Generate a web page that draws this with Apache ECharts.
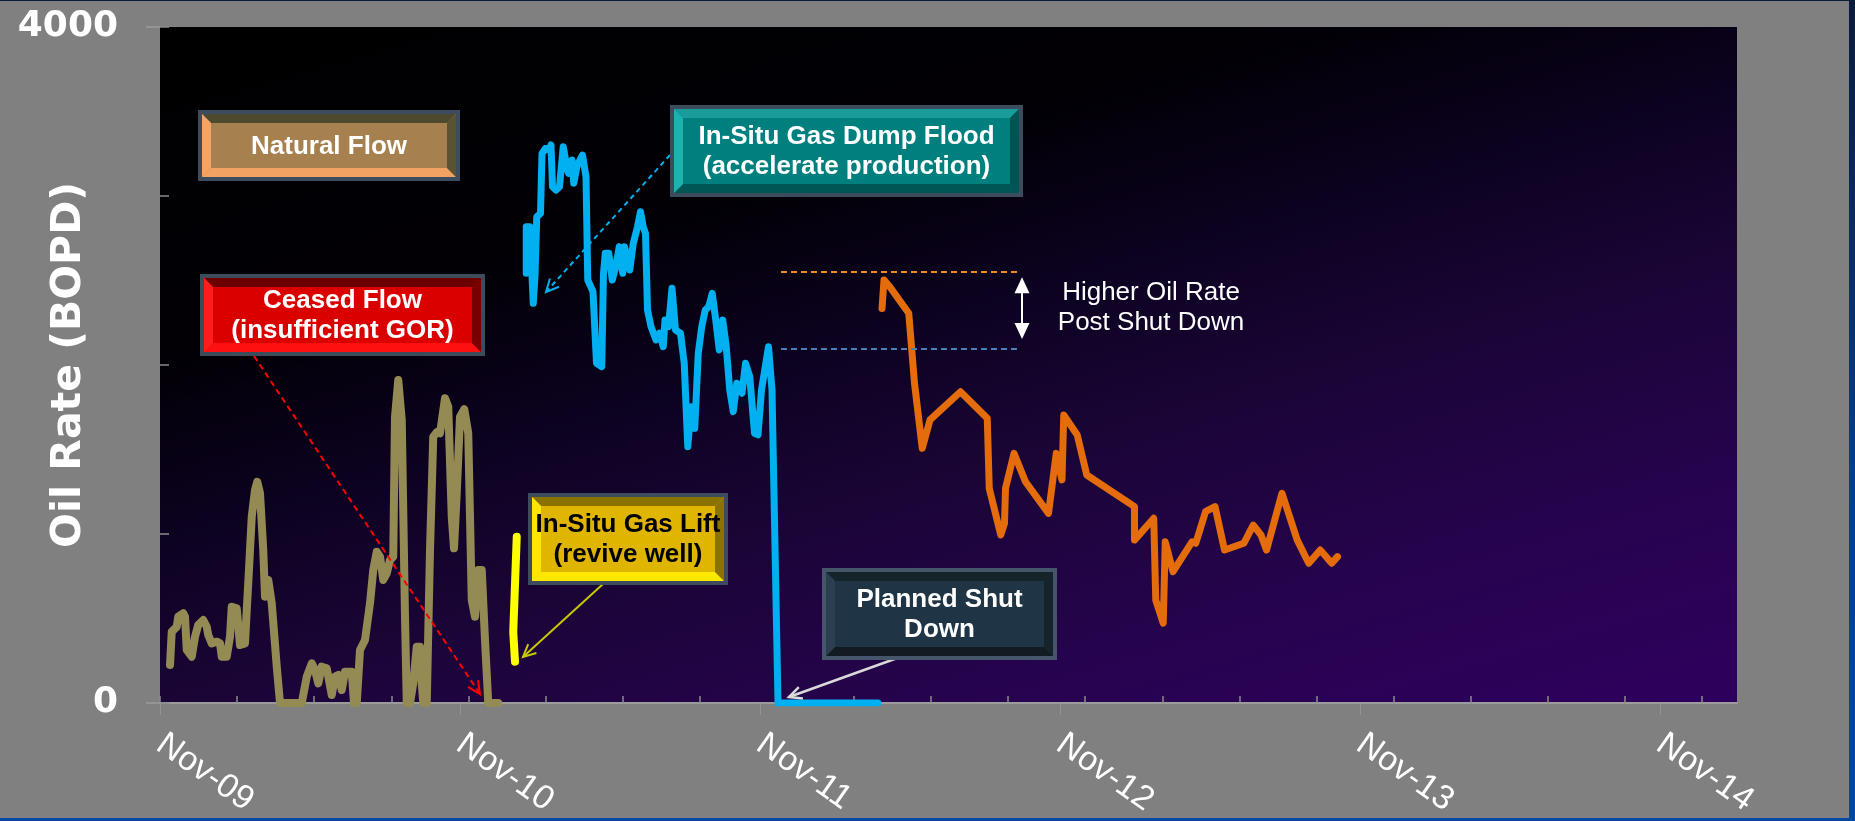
<!DOCTYPE html>
<html>
<head>
<meta charset="utf-8">
<title>Oil Rate</title>
<script src="https://cdn.jsdelivr.net/npm/echarts@6.0.0/dist/echarts.min.js"></script>
<style>
  html, body {
    margin: 0;
    width: 1855px;
    height: 821px;
    overflow: hidden;
    background: linear-gradient(180deg, #0a1c3c 0%, #0b2c66 30%, #00408d 60%, #0049a2 100%);
  }
  #panel {
    position: absolute;
    left: 0;
    top: 1px;
    width: 1849px;
    height: 817px;
    background: #808080;
  }
  #chart {
    position: absolute;
    left: 0;
    top: 0;
    width: 1855px;
    height: 821px;
  }
</style>
</head>
<body>
<div id="panel"></div>
<div id="chart"></div>
<script>
// x = months since Nov-2009, y = BOPD
const xTickLabels = ['Nov-09', 'Nov-10', 'Nov-11', 'Nov-12', 'Nov-13', 'Nov-14']
const yTickLabels = ['0', '4000']

const naturalFlow = [
  [0.40, 225], [0.47, 422], [0.67, 451], [0.73, 511], [0.93, 531], [1.00, 511], [1.07, 314],
  [1.27, 274], [1.40, 392], [1.53, 462], [1.73, 491], [1.87, 451], [1.93, 402], [2.07, 353],
  [2.27, 363], [2.40, 353], [2.47, 274], [2.67, 274], [2.80, 392], [2.87, 570], [3.07, 560],
  [3.20, 343], [3.40, 353], [3.47, 550], [3.53, 708], [3.67, 1102], [3.80, 1260], [3.89, 1309],
  [4.00, 1241], [4.13, 905], [4.20, 629], [4.33, 728], [4.47, 590], [4.67, 215], [4.80, 0],
  [5.67, 0], [5.87, 156], [6.07, 235], [6.20, 195], [6.33, 116], [6.47, 215], [6.67, 205],
  [6.87, 47], [7.00, 156], [7.13, 166], [7.27, 77], [7.40, 185], [7.67, 185], [7.76, 0],
  [7.87, 0], [8.00, 314], [8.20, 373], [8.40, 590], [8.53, 787], [8.67, 895], [8.80, 866],
  [8.93, 728], [9.07, 767], [9.20, 846], [9.33, 866], [9.40, 1694], [9.53, 1911], [9.67, 1675],
  [9.80, 511], [9.87, 0], [10.00, 0], [10.13, 116], [10.27, 333], [10.40, 333], [10.47, 116],
  [10.53, 0], [10.67, 0], [10.80, 905], [10.93, 1576], [11.09, 1605], [11.20, 1596],
  [11.40, 1803], [11.53, 1753], [11.67, 1102], [11.76, 915], [11.87, 1241], [12.00, 1694],
  [12.17, 1738], [12.33, 1596], [12.47, 609], [12.60, 511], [12.73, 787], [12.87, 787],
  [13.00, 373], [13.13, 0], [13.53, 0],
]

const gasLift = [[14.27, 984], [14.13, 422], [14.20, 244]]

const dumpFlood = [
  [14.65, 2543], [14.65, 2818], [14.79, 2818], [14.93, 2365], [15.00, 2523], [15.07, 2877],
  [15.22, 2897], [15.28, 3252], [15.42, 3282], [15.56, 3272], [15.64, 3302], [15.70, 3055],
  [15.84, 3035], [15.98, 3055], [16.06, 3183], [16.13, 3292], [16.27, 3173], [16.34, 3134],
  [16.48, 3213], [16.55, 3075], [16.69, 3183], [16.90, 3242], [17.04, 3114], [17.11, 2503],
  [17.32, 2434], [17.46, 2010], [17.67, 1990], [17.74, 2543], [17.81, 2661], [17.95, 2661],
  [18.09, 2503], [18.23, 2582], [18.37, 2700], [18.51, 2543], [18.58, 2700], [18.79, 2562],
  [18.93, 2720], [19.10, 2818], [19.22, 2907], [19.33, 2818], [19.42, 2779], [19.50, 2325],
  [19.64, 2227], [19.84, 2148], [19.98, 2188], [20.13, 2108], [20.20, 2266], [20.34, 2227],
  [20.48, 2454], [20.62, 2207], [20.82, 2188], [20.97, 2010], [21.11, 1517], [21.25, 1753],
  [21.39, 1625], [21.53, 2069], [21.67, 2227], [21.81, 2325], [21.95, 2345], [22.09, 2424],
  [22.23, 2266], [22.37, 2089], [22.51, 2266], [22.65, 2108], [22.79, 1852], [22.93, 1724],
  [23.07, 1892], [23.28, 1833], [23.42, 2010], [23.59, 1931], [23.78, 1596], [23.92, 1586],
  [24.06, 1852], [24.34, 2108], [24.48, 1852], [24.72, 0], [28.72, 0],
]

const postShutDown = [
  [28.88, 2335], [28.96, 2503], [29.19, 2463], [29.95, 2306], [30.18, 1892], [30.49, 1507],
  [30.80, 1675], [32.02, 1842], [33.09, 1685], [33.17, 1270], [33.63, 994], [33.78, 1063],
  [33.82, 1270], [34.16, 1477], [34.62, 1309], [35.54, 1122], [35.85, 1477], [36.08, 1320],
  [36.15, 1704], [36.69, 1586], [37.07, 1349], [38.98, 1162], [38.98, 964], [39.75, 1093],
  [39.83, 609], [40.13, 472], [40.21, 954], [40.52, 777], [41.28, 954], [41.43, 945],
  [41.82, 1132], [42.20, 1162], [42.58, 905], [43.35, 945], [43.73, 1053], [44.04, 994],
  [44.26, 905], [44.88, 1241], [45.49, 964], [45.95, 827], [46.41, 905], [46.87, 827],
  [47.10, 866],
]

// reference levels: before / after shut down
const refSpan = [24.84, 34.32]
const refHigh = 2550
const refLow = 2095
const rateGap = [34.48, 2472, 2201]

// tick positions (months): yearly outer ticks, inner ticks of the overlaid plot
const yearTicks = [0, 12, 24, 36, 48, 60]
const X_MAX = 63.08
const INNER_TICK = 3.084
const innerTicks = Array.from({ length: 21 }, (_, k) => +(k * INNER_TICK).toFixed(3))

const chart = echarts.init(document.getElementById('chart'))

function arrow(x1, y1, x2, y2, color, width, dash) {
  const ang = Math.atan2(y2 - y1, x2 - x1)
  const len = 14
  const spread = 0.45
  const p1 = [x2 - len * Math.cos(ang - spread), y2 - len * Math.sin(ang - spread)]
  const p2 = [x2 - len * Math.cos(ang + spread), y2 - len * Math.sin(ang + spread)]
  return [
    {
      type: 'line',
      z: 50,
      shape: { x1, y1, x2, y2 },
      style: { stroke: color, lineWidth: width, lineDash: dash || null },
    },
    {
      type: 'polyline',
      z: 50,
      shape: { points: [p1, [x2, y2], p2] },
      style: { stroke: color, lineWidth: width, fill: null },
    },
  ]
}

function bevelBox(b) {
  const f = 4
  const bv = 9
  const ix = b.x + f
  const iy = b.y + f
  const iw = b.w - 2 * f
  const ih = b.h - 2 * f
  const poly = (points, fill) => ({ type: 'polygon', z: 60, shape: { points }, style: { fill } })
  return [
    { type: 'rect', z: 60, shape: { x: b.x, y: b.y, width: b.w, height: b.h }, style: { fill: b.frame } },
    { type: 'rect', z: 60, shape: { x: ix, y: iy, width: iw, height: ih }, style: { fill: b.face } },
    poly([[ix, iy], [ix + iw, iy], [ix + iw - bv, iy + bv], [ix + bv, iy + bv]], b.top),
    poly([[ix, iy + ih], [ix + iw, iy + ih], [ix + iw - bv, iy + ih - bv], [ix + bv, iy + ih - bv]], b.bottom),
    poly([[ix, iy], [ix + bv, iy + bv], [ix + bv, iy + ih - bv], [ix, iy + ih]], b.left),
    poly([[ix + iw, iy], [ix + iw - bv, iy + bv], [ix + iw - bv, iy + ih - bv], [ix + iw, iy + ih]], b.right),
    {
      type: 'text',
      z: 61,
      x: b.x + b.w / 2,
      y: b.y + b.h / 2 + 1,
      style: {
        text: b.text,
        fill: b.color,
        font: 'bold 26px "Liberation Sans", Arial, sans-serif',
        textAlign: 'center',
        textVerticalAlign: 'middle',
        align: 'center',
        verticalAlign: 'middle',
        lineHeight: 30,
      },
    },
  ]
}

const boxes = [
  {
    x: 198, y: 110, w: 262, h: 71, text: 'Natural Flow', color: '#ffffff',
    frame: '#3d4d5f', face: '#a6804f', top: '#4d4a2d', left: '#f3a466', bottom: '#f2a262', right: '#5a5331',
  },
  {
    x: 200, y: 274, w: 285, h: 82, text: 'Ceased Flow\n(insufficient GOR)', color: '#ffffff',
    frame: '#3c4c5a', face: '#da0000', top: '#6c0000', left: '#ff1c1c', bottom: '#ff1010', right: '#780000',
  },
  {
    x: 670, y: 105, w: 353, h: 92, text: 'In-Situ Gas Dump Flood\n(accelerate production)', color: '#ffffff',
    frame: '#3c4c5c', face: '#007f7f', top: '#1a9c9c', left: '#1fb0b0', bottom: '#005555', right: '#005454',
  },
  {
    x: 528, y: 493, w: 200, h: 92, text: 'In-Situ Gas Lift\n(revive well)', color: '#000000',
    frame: '#3c4c5c', face: '#e0b500', top: '#8a7300', left: '#ffe600', bottom: '#ffe800', right: '#8a7300',
  },
  {
    x: 822, y: 568, w: 235, h: 92, text: 'Planned Shut\nDown', color: '#ffffff',
    frame: '#45566a', face: '#1f3445', top: '#15232a', left: '#2b3f50', bottom: '#111b20', right: '#15232a',
  },
]

const annotations = [
  ...arrow(254, 356, 480, 694, '#ff0000', 2, [6, 4]),
  ...arrow(670, 155, 546, 292, '#00b0f0', 2, [5, 4]),
  ...arrow(603, 584, 523, 657, '#c8c800', 2),
  ...arrow(903, 656, 789, 697, '#d9d9d9', 2.5),
  ...boxes.flatMap(bevelBox),
  {
    type: 'text',
    z: 61,
    x: 1151,
    y: 308,
    style: {
      text: 'Higher Oil Rate\nPost Shut Down',
      fill: '#ffffff',
      font: '26px "Liberation Sans", Arial, sans-serif',
      textAlign: 'center',
      textVerticalAlign: 'middle',
      align: 'center',
      verticalAlign: 'middle',
      lineHeight: 30,
    },
  },
]

function xLabel(v) {
  const i = yearTicks.indexOf(v)
  return i >= 0 ? xTickLabels[i] : ''
}

function yLabel(v) {
  if (v === 0) return yTickLabels[0]
  if (v === 4000) return yTickLabels[1]
  return ''
}

const lineBase = {
  type: 'line',
  showSymbol: false,
  symbol: 'none',
  animation: false,
  xAxisIndex: 0,
  yAxisIndex: 0,
}

chart.setOption({
  backgroundColor: 'transparent',
  animation: false,
  grid: {
    left: 160,
    right: 118,
    top: 27,
    bottom: 118,
    show: true,
    borderWidth: 0,
    containLabel: false,
    outerBoundsMode: 'none',
    backgroundColor: {
      type: 'linear',
      x: 0,
      y: 0,
      x2: 0.189,
      y2: 1.541,
      colorStops: [
        { offset: 0, color: '#000000' },
        { offset: 0.3, color: '#020006' },
        { offset: 0.45, color: '#0c0220' },
        { offset: 0.6, color: '#1a0536' },
        { offset: 0.8, color: '#27034f' },
        { offset: 1, color: '#2e005e' },
      ],
    },
  },
  xAxis: [
    {
      type: 'value',
      min: 0,
      max: X_MAX,
      interval: 12,
      position: 'bottom',
      splitLine: { show: false },
      axisLine: { show: true, lineStyle: { color: '#9b9b9b', width: 2 } },
      axisTick: {
        show: true,
        inside: false,
        length: 12,
        customValues: yearTicks,
        lineStyle: { color: '#939393', width: 1 },
      },
      axisLabel: {
        customValues: yearTicks,
        formatter: xLabel,
        rotate: -35,
        margin: 38,
        color: '#ffffff',
        fontSize: 34,
        fontFamily: '"Liberation Sans", Arial, sans-serif',
      },
    },
    {
      type: 'value',
      min: 0,
      max: X_MAX,
      interval: INNER_TICK,
      position: 'bottom',
      splitLine: { show: false },
      axisLine: { show: false },
      axisTick: {
        show: true,
        inside: true,
        length: 7,
        customValues: innerTicks,
        lineStyle: { color: '#8a8a8a', width: 1.5 },
      },
      axisLabel: { show: false },
    },
  ],
  yAxis: [
    {
      type: 'value',
      min: 0,
      max: 4000,
      interval: 4000,
      position: 'left',
      name: 'Oil Rate (BOPD)',
      nameLocation: 'middle',
      nameGap: 70,
      nameMoveOverlap: false,
      nameTextStyle: {
        color: '#ffffff',
        fontSize: 41,
        fontWeight: 'bold',
        fontFamily: '"DejaVu Sans", Verdana, sans-serif',
      },
      splitLine: { show: false },
      axisLine: { show: false },
      axisTick: { show: true, inside: false, length: 14, lineStyle: { color: '#9a9a9a', width: 1.5 } },
      axisLabel: {
        formatter: yLabel,
        margin: 42,
        color: '#ffffff',
        fontSize: 36,
        fontWeight: 'bold',
        fontFamily: '"DejaVu Sans", Verdana, sans-serif',
      },
    },
    {
      type: 'value',
      min: 0,
      max: 4000,
      interval: 1000,
      position: 'left',
      splitLine: { show: false },
      axisLine: { show: false },
      axisTick: { show: true, inside: true, length: 9, lineStyle: { color: '#8a8a8a', width: 1.5 } },
      axisLabel: { show: false },
    },
  ],
  series: [
    {
      ...lineBase,
      name: 'Natural Flow',
      data: naturalFlow,
      lineStyle: { color: '#948a54', width: 8, cap: 'round', join: 'round' },
    },
    {
      ...lineBase,
      name: 'In-Situ Gas Lift',
      data: gasLift,
      lineStyle: { color: '#ffff00', width: 8, cap: 'round', join: 'round' },
    },
    {
      ...lineBase,
      name: 'In-Situ Gas Dump Flood',
      data: dumpFlood,
      lineStyle: { color: '#00b0f0', width: 7, cap: 'round', join: 'round' },
      markLine: {
        silent: true,
        symbol: 'none',
        label: { show: false },
        lineStyle: { color: '#4a7ebb', width: 2, type: [6, 4] },
        data: [[{ coord: [refSpan[0], refLow] }, { coord: [refSpan[1], refLow] }]],
      },
    },
    {
      ...lineBase,
      name: 'Post Shut Down',
      data: postShutDown,
      lineStyle: { color: '#e46c0a', width: 7, cap: 'round', join: 'round' },
      markLine: {
        silent: true,
        symbol: 'none',
        label: { show: false },
        data: [
          [
            { coord: [refSpan[0], refHigh], lineStyle: { color: '#f08a20', width: 2, type: [6, 4] } },
            { coord: [refSpan[1], refHigh] },
          ],
          [
            {
              coord: [rateGap[0], rateGap[1]],
              symbol: 'triangle',
              symbolSize: [15, 16],
              lineStyle: { color: '#ffffff', width: 2, type: 'solid' },
            },
            { coord: [rateGap[0], rateGap[2]], symbol: 'triangle', symbolSize: [15, 16] },
          ],
        ],
      },
    },
  ],
  graphic: annotations,
})
</script>
</body>
</html>
